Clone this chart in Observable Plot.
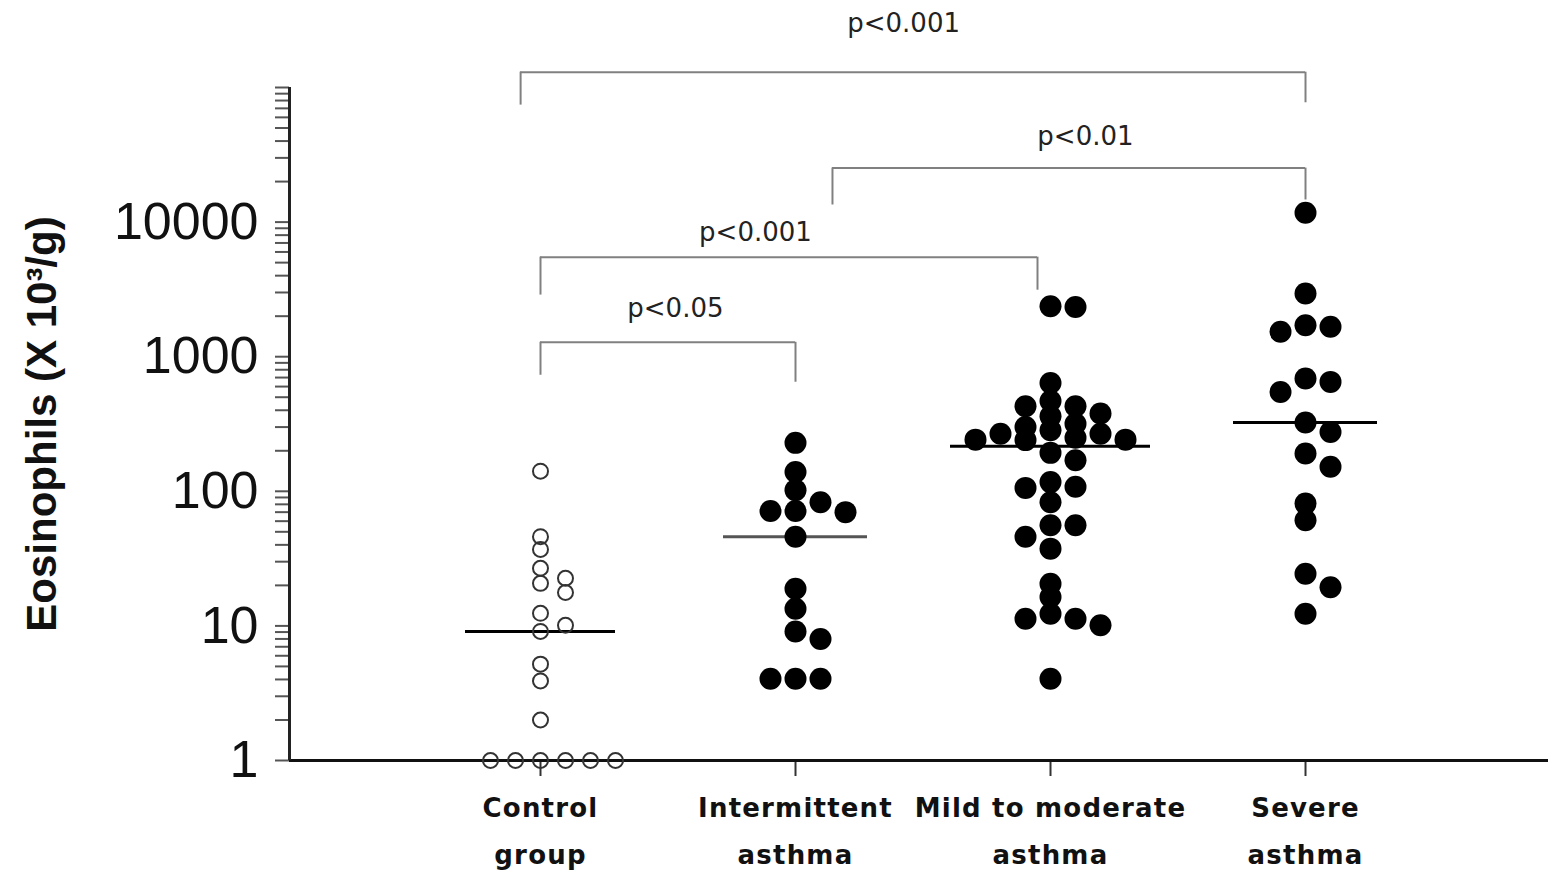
<!DOCTYPE html>
<html>
<head>
<meta charset="utf-8">
<script src="https://cdn.jsdelivr.net/npm/d3@7"></script>
<script src="https://cdn.jsdelivr.net/npm/@observablehq/plot@0.6"></script>
<style>
  body { margin: 0; background: #fff; }
  svg { display: block; }
</style>
</head>
<body>
<div id="chart"></div>
<script>
// ---------- data ----------
const groupLabels = ["Control\ngroup", "Intermittent\nasthma", "Mild to moderate\nasthma", "Severe\nasthma"];

const controlValues = [141, 46, 37, 26.8, 22.6, 20.7, 17.7, 12.4, 10.1, 9.1, 5.2, 3.9, 2.0, 1, 1, 1, 1, 1, 1];
const intermittentValues = [229, 139, 102, 83, 71.4, 71.4, 70, 46, 18.9, 13.4, 9.1, 8.0, 4.05, 4.05, 4.05];
const mildValues = [2373, 2340, 638, 469, 429, 429, 378, 361, 318, 300, 284, 268, 268, 250, 242, 242, 240,
                    193, 170, 117, 108, 106, 83, 56, 56, 46, 37.5, 20.6, 16.4, 12.3, 11.3, 11.3, 10.1, 4.05];
const severeValues = [11730, 2950, 1714, 1667, 1530, 689, 650, 547, 324, 276, 191, 152, 81, 61, 24.4, 19.4, 12.3];

const yLabelValues = [1, 10, 100, 1000, 10000];
const yAxisLabel = "Eosinophils (X 10³/g)";

// significance brackets: x in group-index units, y in data units
const brackets = [
  {label: "p<0.001", from: -0.078, to: 3,     bar: 1.30e5, legFrom: 7.4e4, legTo: 7.7e4, labelX: 1.424, labelY: 2.97e5},
  {label: "p<0.01",  from: 1.145,  to: 3,     bar: 2.52e4, legFrom: 1.34e4, legTo: 1.46e4, labelX: 2.137, labelY: 4.29e4},
  {label: "p<0.001", from: 0,      to: 1.949, bar: 5.49e3, legFrom: 2.87e3, legTo: 3.12e3, labelX: 0.843, labelY: 8.28e3},
  {label: "p<0.05",  from: 0,      to: 1.0,   bar: 1.28e3, legFrom: 728,    legTo: 646,    labelX: 0.529, labelY: 2.29e3}
];

// ---------- layout constants ----------
const W = 1548, H = 873;
const M_LEFT = 289, M_RIGHT = 0, M_TOP = 87, M_BOTTOM = 113;
const X_MIN = -0.9843, X_MAX = 3.9529;
const PX_PER_UNIT = (W - M_LEFT - M_RIGHT) / (X_MAX - X_MIN);
const PX_PER_DECADE = (H - M_TOP - M_BOTTOM) / 5;
const SLOT_PX = 25;
const medianHalfPx = [75, 72, 100, 72];
const medianColors = ["#000", "#555", "#000", "#000"];

const allValues = [controlValues, intermittentValues, mildValues, severeValues];

// simple column-scatter placement: same-column points must be minDist px apart
function place(values, gi, minDist) {
  const order = values.map((v, i) => i).sort((a, b) => values[b] - values[a]);
  const slotOrder = [0, 1, -1, 2, -2, 3, -3, 4, -4, 5, -5];
  const placed = [];
  const out = [];
  for (const i of order) {
    const py = Math.log10(values[i]) * PX_PER_DECADE;
    const slot = slotOrder.find(s => placed.every(p => p.slot !== s || Math.abs(p.py - py) >= minDist));
    placed.push({slot, py});
    out.push({group: gi, value: values[i], x: gi + slot * SLOT_PX / PX_PER_UNIT});
  }
  return out;
}

const openPts = place(controlValues, 0, 12);
const filledPts = [
  ...place(intermittentValues, 1, 15),
  ...place(mildValues, 2, 13),
  ...place(severeValues, 3, 15)
];

const medians = allValues.map((vals, i) => ({
  y: d3.median(vals),
  x1: i - medianHalfPx[i] / PX_PER_UNIT,
  x2: i + medianHalfPx[i] / PX_PER_UNIT,
  color: medianColors[i]
}));

const yTicks = [];
for (let n = 0; n < 5; n++) for (let k = 1; k <= 9; k++) yTicks.push(k * 10 ** n);
yTicks.push(1e5);

const bracketBars = brackets.map(b => ({x1: b.from, x2: b.to, y: b.bar}));
const bracketLegs = brackets.flatMap(b => [
  {x: b.from, y1: b.bar, y2: b.legFrom},
  {x: b.to, y1: b.bar, y2: b.legTo}
]);

const chart = Plot.plot({
  width: W, height: H,
  marginLeft: M_LEFT, marginRight: M_RIGHT, marginTop: M_TOP, marginBottom: M_BOTTOM,
  style: {fontFamily: "'Liberation Sans', Arial, sans-serif", background: "#fff", color: "#000", overflow: "visible"},
  x: {domain: [X_MIN, X_MAX]},
  y: {type: "log", domain: [1, 1e5]},
  marks: [
    Plot.axisY({
      ticks: yTicks,
      tickFormat: d => yLabelValues.includes(d) ? String(d) : "",
      tickSize: 14, tickPadding: 17, fontSize: 52,
      stroke: "#555", strokeWidth: 2, fill: "#111", label: null
    }),
    Plot.axisX({
      ticks: [0, 1, 2, 3],
      tickFormat: i => groupLabels[i],
      tickSize: 16, tickPadding: 7, fontSize: 26, fontWeight: "bold",
      fontFamily: "'DejaVu Sans', sans-serif", lineHeight: 1.8,
      stroke: "#333", strokeWidth: 2, fill: "#111", label: null
    }),
    // axis lines
    Plot.ruleY([1], {stroke: "#111", strokeWidth: 3}),
    Plot.ruleX([X_MIN], {y1: 1, y2: 1e5, stroke: "#222", strokeWidth: 3}),
    // y axis title
    Plot.text([yAxisLabel], {
      frameAnchor: "left", dx: 42 - M_LEFT, rotate: -90,
      fontSize: 42, fontWeight: "bold", textAnchor: "middle", lineAnchor: "middle", fill: "#111"
    }),
    // brackets
    Plot.ruleY(bracketBars, {x1: "x1", x2: "x2", y: "y", stroke: "#808080", strokeWidth: 2}),
    Plot.ruleX(bracketLegs, {x: "x", y1: "y1", y2: "y2", stroke: "#808080", strokeWidth: 2}),
    Plot.text(brackets, {
      x: "labelX", y: "labelY", text: "label",
      fontSize: 26, fontFamily: "'DejaVu Sans', sans-serif", fill: "#222", lineAnchor: "middle"
    }),
    // medians
    Plot.ruleY(medians, {x1: "x1", x2: "x2", y: "y", stroke: "color", strokeWidth: 3}),
    // points
    Plot.dot(openPts, {x: "x", y: "value", r: 7.5, stroke: "#333", strokeWidth: 2, fill: "none"}),
    Plot.dot(filledPts, {x: "x", y: "value", r: 11, fill: "#000"})
  ]
});

d3.select(chart).selectAll('g[aria-label="x-axis tick label"] text').attr("letter-spacing", "1.2");
document.getElementById("chart").appendChild(chart);
</script>
</body>
</html>
